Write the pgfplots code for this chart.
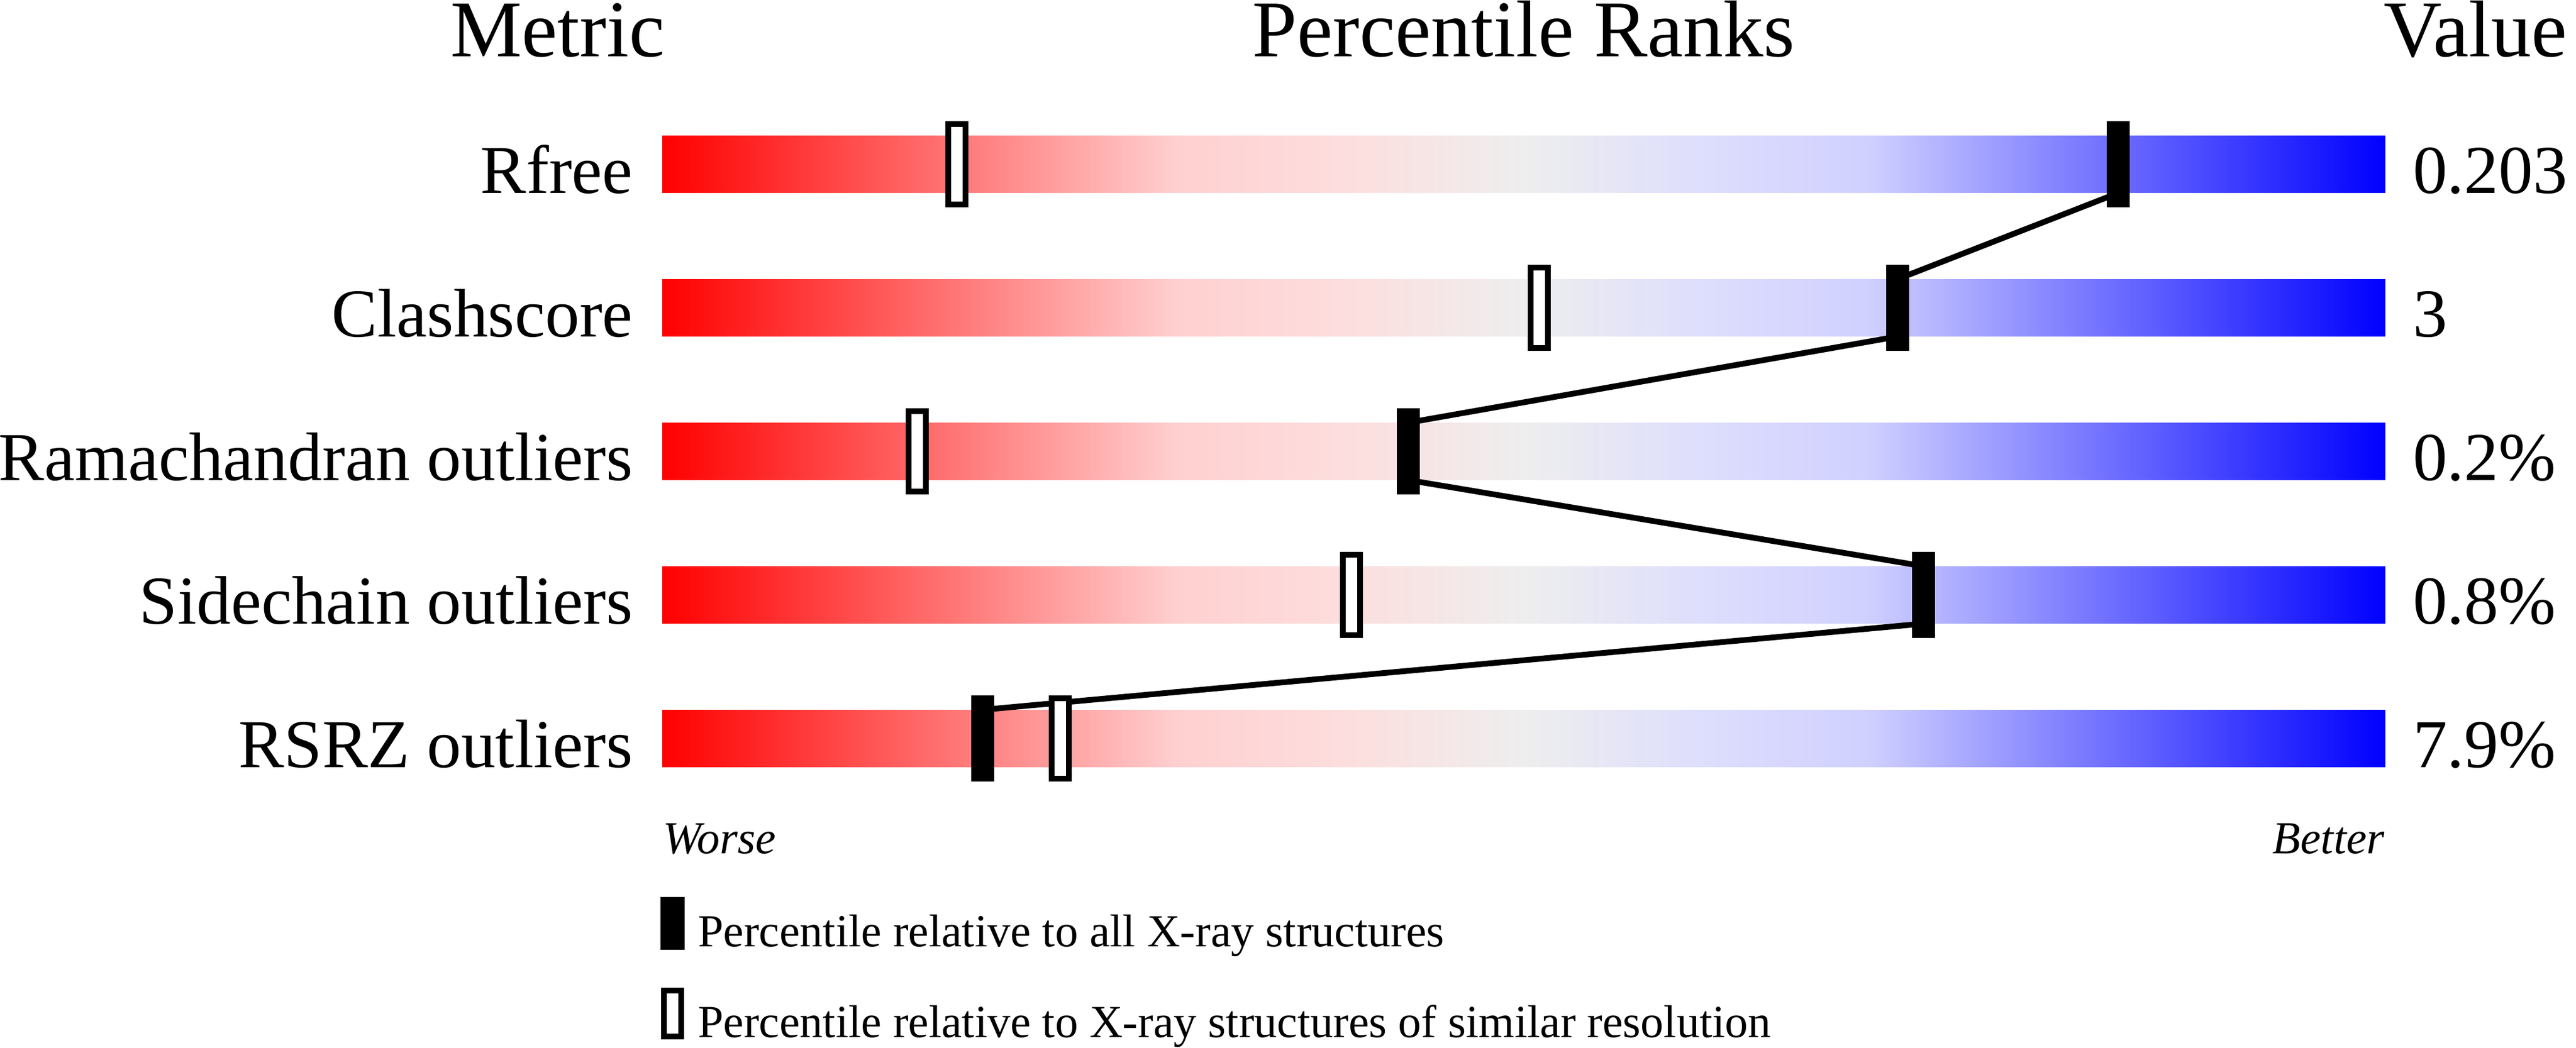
\documentclass[border=0pt]{standalone}
\usepackage{pgfplots}
\usepackage{pgfplotstable}
\pgfplotsset{compat=1.18}
\usepackage{fontspec}
\setmainfont{Liberation Serif}

\newcommand\hdfont{\fontsize{24.5bp}{29bp}\selectfont}
\newcommand\lbfont{\fontsize{20.9bp}{25bp}\selectfont}
\newcommand\smfont{\fontsize{14bp}{17bp}\selectfont}

% red - grey - blue slider; 25bp..75bp is the bar itself
\pgfdeclarehorizontalshading{slider}{100bp}{%
  rgb(0bp)=(1,0,0); rgb(25bp)=(1,0,0);
  rgb(40bp)=(1,0.816,0.816); rgb(45bp)=(0.992,0.871,0.871);
  rgb(50bp)=(0.933,0.933,0.933);
  rgb(55bp)=(0.871,0.871,0.992); rgb(60bp)=(0.816,0.816,1);
  rgb(75bp)=(0,0,1); rgb(100bp)=(0,0,1)}

% percentile markers
\pgfdeclareplotmark{pctall}{%
  \pgfpathrectangle{\pgfpoint{-3.5bp}{-13.125bp}}{\pgfpoint{7bp}{26.25bp}}%
  \pgfusepathqfill}
\pgfdeclareplotmark{pctsim}{%
  \pgfsetlinewidth{1.7bp}%
  \pgfpathrectangle{\pgfpoint{-2.65bp}{-12.275bp}}{\pgfpoint{5.3bp}{24.55bp}}%
  \pgfusepathqfillstroke}

% rows: 5 Rfree ... 1 RSRZ; percentiles
\pgfplotstableread{
y full all  sim
5 100  84.5 17.1
4 100  71.7 50.9
3 100  43.3 14.8
2 100  73.2 40.0
1 100  18.6 23.1
}\ranks

% link between the "all" markers, bar edge to bar edge
\pgfplotstableread{
x    y
84.5 4.8
71.7 4.2
71.7 3.8
43.3 3.2
43.3 2.8
73.2 2.2
73.2 1.8
18.6 1.2
}\link

\begin{document}
\begin{tikzpicture}
\begin{axis}[
    at={(201.775bp,72.275bp)}, anchor=south west,
    scale only axis, width=525bp, height=218.75bp,
    xmin=0, xmax=100, ymin=0.5, ymax=5.5,
    hide axis, clip=false,
    legend style={
        at={(-0.001,-0.1208)}, anchor=north west,
        draw=none, fill=none, inner sep=0pt, outer sep=0pt,
        row sep=9.5bp, column sep=4bp,
        nodes={inner sep=0pt, text depth=3bp},
        font=\smfont, cells={anchor=base west}
    }]
    \addlegendimage{legend image code/.code={
        \fill[black] (0bp,-0.7bp) rectangle (7bp,15bp);}}
    \addlegendentry{Percentile relative to all X-ray structures}
    \addlegendimage{legend image code/.code={
        \draw[black, fill=white, line width=1.7bp] (0.85bp,0.15bp) rectangle (6.15bp,14.15bp);}}
    \addlegendentry{Percentile relative to X-ray structures of similar resolution}

    \addplot[xbar, bar width=0.4, draw=none, shading=slider, forget plot]
        table[x=full, y=y] {\ranks};
    \addplot[only marks, mark=pctsim, mark options={draw=black, fill=white}, forget plot]
        table[x=sim, y=y] {\ranks};
    \addplot[black, line width=1.75bp, line join=round, forget plot]
        table[x=x, y=y] {\link};
    \addplot[only marks, mark=pctall, mark options={fill=black}, forget plot]
        table[x=all, y=y] {\ranks};

    % headers
    \node[anchor=base, font=\hdfont, inner sep=0pt] at ([xshift=-31.9bp,yshift=-0.4bp]axis cs:0,5.76) {Metric};
    \node[anchor=base, font=\hdfont, inner sep=0pt] at ([yshift=-0.4bp]axis cs:50,5.76) {Percentile Ranks};
    \node[anchor=base west, font=\hdfont, inner sep=0pt] at ([xshift=-0.6bp,yshift=-0.4bp]axis cs:100,5.76) {Value};

    % metric names
    \node[anchor=base east, font=\lbfont, inner sep=0pt] at ([xshift=-8.75bp]axis cs:0,4.8) {Rfree};
    \node[anchor=base east, font=\lbfont, inner sep=0pt] at ([xshift=-8.75bp]axis cs:0,3.8) {Clashscore};
    \node[anchor=base east, font=\lbfont, inner sep=0pt] at ([xshift=-8.75bp]axis cs:0,2.8) {Ramachandran outliers};
    \node[anchor=base east, font=\lbfont, inner sep=0pt] at ([xshift=-8.75bp]axis cs:0,1.8) {Sidechain outliers};
    \node[anchor=base east, font=\lbfont, inner sep=0pt] at ([xshift=-8.75bp]axis cs:0,0.8) {RSRZ outliers};

    % values
    \node[anchor=base west, font=\lbfont, inner sep=0pt] at ([xshift=8.2bp]axis cs:100,4.8) {0.203};
    \node[anchor=base west, font=\lbfont, inner sep=0pt] at ([xshift=8.2bp]axis cs:100,3.8) {3};
    \node[anchor=base west, font=\lbfont, inner sep=0pt] at ([xshift=8.2bp]axis cs:100,2.8) {0.2\%};
    \node[anchor=base west, font=\lbfont, inner sep=0pt] at ([xshift=8.2bp]axis cs:100,1.8) {0.8\%};
    \node[anchor=base west, font=\lbfont, inner sep=0pt] at ([xshift=8.2bp]axis cs:100,0.8) {7.9\%};

    \node[anchor=base west, font=\smfont\itshape, inner sep=0pt] at (axis cs:0,0.197) {Worse};
    \node[anchor=base east, font=\smfont\itshape, inner sep=0pt] at (axis cs:100,0.197) {Better};
\end{axis}
\pgfresetboundingbox
\path (0,0) rectangle (784.875bp,319.2bp);
\end{tikzpicture}
\end{document}
